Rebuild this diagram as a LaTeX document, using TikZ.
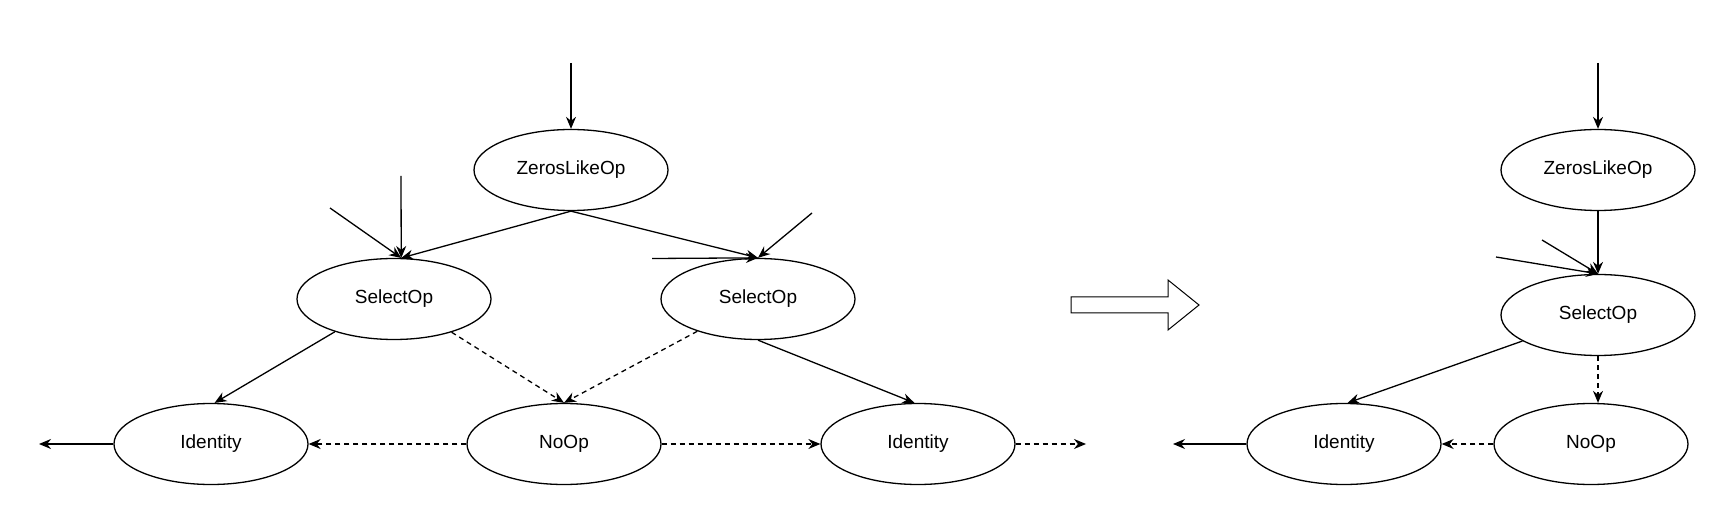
\documentclass[tikz,border=0pt]{standalone}
\usepackage{fontspec}
\setmainfont{Liberation Sans}
\usetikzlibrary{shapes.geometric,arrows.meta}

\tikzset{
  opnode/.style={draw, ellipse, minimum width=194pt, minimum height=81pt, inner sep=0pt,
    font=\fontsize{19}{22}\selectfont},
  flow/.style={-{Stealth[length=12pt,width=10pt]}},
  ctrl/.style={flow, dash pattern=on 5pt off 4pt},
}

\begin{document}
\begin{tikzpicture}[x=1pt, y=-1pt, line width=1.3pt]
\useasboundingbox (0,0) rectangle (1734,526);

% Before: ZerosLikeOp feeding two SelectOps
\node[opnode] (zl) at (571,170) {ZerosLikeOp};
\node[opnode] (sl) at (394,299) {SelectOp};
\node[opnode] (sr) at (758,299) {SelectOp};
\node[opnode] (idl) at (211,444) {Identity};
\node[opnode] (noop) at (564,444) {NoOp};
\node[opnode] (idr) at (918,444) {Identity};

\coordinate (zlin) at (571,63);
\coordinate (slin1) at (401,176);
\coordinate (slin2) at (330,208);
\coordinate (srin1) at (812,213);
\coordinate (srin2) at (652,258.5);
\coordinate (idlout) at (39,444);
\coordinate (idrout) at (1086,444);

\draw[flow] (zlin) -- (zl.north);
\draw[flow] (slin1) -- (sl.80);
\draw[flow] (slin2) -- (sl.80);
\draw[flow] (zl.south) -- (sl.80);
\draw[flow] (zl.south) -- (sr.north);
\draw[flow] (srin1) -- (sr.north);
\draw[flow] (srin2) -- (sr.north);

\draw[flow] (sl.209) -- (idl.85);
\draw[ctrl] (sl.330) -- (noop.north);
\draw[ctrl] (sr.208) -- (noop.north);
\draw[flow] (sr.south) -- (idr.95);

\draw[flow] (idl.west) -- (idlout);
\draw[ctrl] (noop.west) -- (idl.east);
\draw[ctrl] (noop.east) -- (idr.west);
\draw[ctrl] (idr.east) -- (idrout);

% Big hollow arrow
\draw[line width=1pt] (1071,297) -- (1168,297) -- (1168,280) -- (1199,305)
  -- (1168,330) -- (1168,313) -- (1071,313) -- cycle;

% After: a single SelectOp
\node[opnode] (zr) at (1598,170) {ZerosLikeOp};
\node[opnode] (sr2) at (1598,315) {SelectOp};
\node[opnode] (idr2) at (1344,444) {Identity};
\node[opnode] (noop2) at (1591,444) {NoOp};

\coordinate (zrin) at (1598,63);
\coordinate (sr2in1) at (1496,257);
\coordinate (sr2in2) at (1542,240);
\coordinate (idr2out) at (1173,444);

\draw[flow] (zrin) -- (zr.north);
\draw[flow] (zr.south) -- (sr2.north);
\draw[flow] (sr2in1) -- (sr2.north);
\draw[flow] (sr2in2) -- (sr2.north);

\draw[flow] (sr2.199) -- (idr2.85);
\draw[ctrl] (sr2.south) -- (sr2.south |- noop2.north);
\draw[ctrl] (noop2.west) -- (idr2.east);
\draw[flow] (idr2.west) -- (idr2out);
\end{tikzpicture}
\end{document}
